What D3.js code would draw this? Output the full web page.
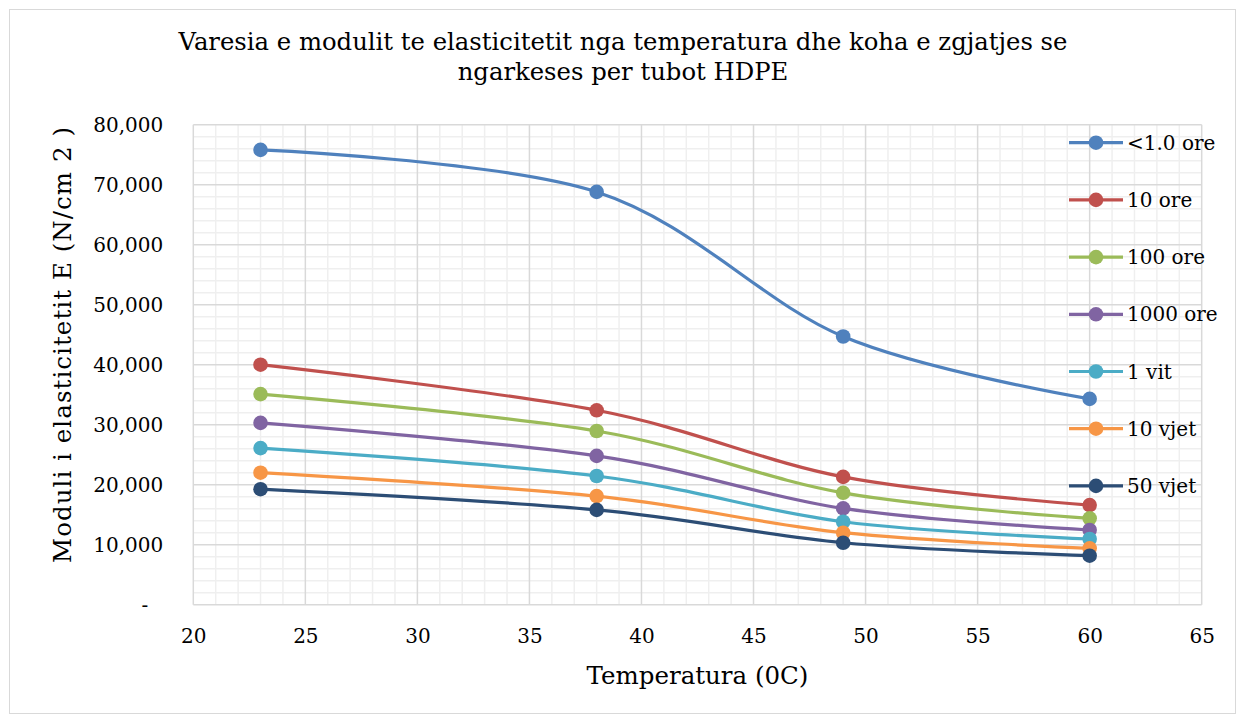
<!DOCTYPE html>
<html>
<head>
<meta charset="utf-8">
<script src="https://cdn.jsdelivr.net/npm/d3@7/dist/d3.min.js"></script>
<style>
  html, body { margin: 0; padding: 0; background: #fff; }
  svg { display: block; }
  text { font-family: "DejaVu Serif", serif; fill: #000; }
</style>
</head>
<body>
<svg id="chart" width="1237" height="717"></svg>
<script>
// Temperatures (°C) at which the modulus was measured
const temperatures = [23, 38, 49, 60];

// Load-duration series names
const seriesNames = ["<1.0 ore", "10 ore", "100 ore", "1000 ore", "1 vit", "10 vjet", "50 vjet"];

// Modulus of elasticity E (N/cm²) per series, one value per temperature
const valsLess1h   = [75800, 68800, 44700, 34300];
const vals10h      = [40000, 32400, 21300, 16600];
const vals100h     = [35100, 28950, 18650, 14400];
const vals1000h    = [30300, 24800, 16050, 12450];
const vals1yr      = [26100, 21450, 13830, 10950];
const vals10yr     = [22000, 18100, 12000, 9400];
const vals50yr     = [19250, 15800, 10330, 8170];

const seriesValues = [valsLess1h, vals10h, vals100h, vals1000h, vals1yr, vals10yr, vals50yr];
const seriesColors = ["#4F81BD", "#C0504D", "#9BBB59", "#8064A2", "#4BACC6", "#F79646", "#2C4D75"];

// Axis ticks
const xTicks = [20, 25, 30, 35, 40, 45, 50, 55, 60, 65];
const yTicks = [0, 10000, 20000, 30000, 40000, 50000, 60000, 70000, 80000];

const titleLines = ["Varesia e modulit te elasticitetit nga temperatura dhe koha e zgjatjes se",
                    "ngarkeses per tubot HDPE"];
const xTitle = "Temperatura (0C)";
const yTitle = "Moduli i elasticitetit E (N/cm 2 )";

const svg = d3.select("#chart");

// Chart frame
svg.append("rect")
  .attr("x", 9.5).attr("y", 9.5).attr("width", 1226).attr("height", 704)
  .attr("fill", "#fff").attr("stroke", "#d9d9d9").attr("stroke-width", 1);

const plot = { left: 193.3, right: 1201.7, top: 124.7, bottom: 604.7 };

const x = d3.scaleLinear().domain([20, 65]).range([plot.left, plot.right]);
const y = d3.scaleLinear().domain([0, 80000]).range([plot.bottom, plot.top]);

// Minor gridlines
const g = svg.append("g");
g.selectAll("line.minor-x")
  .data(d3.range(20, 66, 1).filter(v => v % 5 !== 0))
  .join("line").attr("class", "minor-x")
  .attr("x1", d => x(d)).attr("x2", d => x(d))
  .attr("y1", plot.top).attr("y2", plot.bottom)
  .attr("stroke", "#efefef").attr("stroke-width", 1.5);
g.selectAll("line.minor-y")
  .data(d3.range(0, 80001, 2000).filter(v => v % 10000 !== 0))
  .join("line").attr("class", "minor-y")
  .attr("x1", plot.left).attr("x2", plot.right)
  .attr("y1", d => y(d)).attr("y2", d => y(d))
  .attr("stroke", "#efefef").attr("stroke-width", 1.5);

// Major gridlines
g.selectAll("line.major-x")
  .data(xTicks)
  .join("line").attr("class", "major-x")
  .attr("x1", d => x(d)).attr("x2", d => x(d))
  .attr("y1", plot.top).attr("y2", plot.bottom)
  .attr("stroke", "#d9d9d9").attr("stroke-width", 1.5);
g.selectAll("line.major-y")
  .data(yTicks)
  .join("line").attr("class", "major-y")
  .attr("x1", plot.left).attr("x2", plot.right)
  .attr("y1", d => y(d)).attr("y2", d => y(d))
  .attr("stroke", "#d9d9d9").attr("stroke-width", 1.5);

// Axes (labels only; the lines come from the grid)
const xAxis = d3.axisBottom(x).tickValues(xTicks).tickSize(0).tickPadding(24).tickFormat(d3.format("d"));
const yFmt = d => d === 0 ? "-" : d3.format(",")(d);
const yAxis = d3.axisLeft(y).tickValues(yTicks).tickSize(0).tickPadding(30).tickFormat(yFmt);

const gx = svg.append("g").attr("transform", `translate(0,${plot.bottom})`).call(xAxis);
const gy = svg.append("g").attr("transform", `translate(${plot.left},0)`).call(yAxis);
[gx, gy].forEach(a => {
  a.select(".domain").remove();
  a.selectAll("text").attr("font-family", "DejaVu Serif").attr("font-size", 20).attr("fill", "#000");
});
gy.selectAll(".tick text").filter(d => d === 0).attr("dx", -15);

// Series lines and markers
const line = d3.line()
  .x((d, i) => x(temperatures[i]))
  .y(d => y(d))
  .curve(d3.curveCardinal.tension(0));

seriesValues.forEach((vals, s) => {
  svg.append("path")
    .datum(vals)
    .attr("d", line)
    .attr("fill", "none")
    .attr("stroke", seriesColors[s])
    .attr("stroke-width", 3.2)
    .attr("stroke-linecap", "round");
  svg.append("g").selectAll("circle")
    .data(vals)
    .join("circle")
    .attr("cx", (d, i) => x(temperatures[i]))
    .attr("cy", d => y(d))
    .attr("r", 7.3)
    .attr("fill", seriesColors[s]);
});

// Legend
const legend = svg.append("g");
seriesNames.forEach((name, i) => {
  const ly = 142.7 + i * 57.2;
  const row = legend.append("g").attr("transform", `translate(0,${ly})`);
  row.append("line").attr("x1", 1069).attr("x2", 1123).attr("y1", 0).attr("y2", 0)
    .attr("stroke", seriesColors[i]).attr("stroke-width", 3.2);
  row.append("circle").attr("cx", 1096).attr("cy", 0).attr("r", 7.3).attr("fill", seriesColors[i]);
  row.append("text").attr("x", 1127).attr("y", 7).attr("font-size", 20).text(name);
});

// Titles
svg.append("g").selectAll("text")
  .data(titleLines)
  .join("text")
  .attr("x", 623).attr("y", (d, i) => 50 + i * 30)
  .attr("text-anchor", "middle").attr("font-size", 24.3)
  .text(d => d);

svg.append("text")
  .attr("x", (plot.left + plot.right) / 2).attr("y", 684)
  .attr("text-anchor", "middle").attr("font-size", 24.5)
  .text(xTitle);

svg.append("text")
  .attr("transform", "translate(71,345) rotate(-90)")
  .attr("text-anchor", "middle").attr("font-size", 24.5)
  .attr("textLength", 436).attr("lengthAdjust", "spacing")
  .text(yTitle);
</script>
</body>
</html>
